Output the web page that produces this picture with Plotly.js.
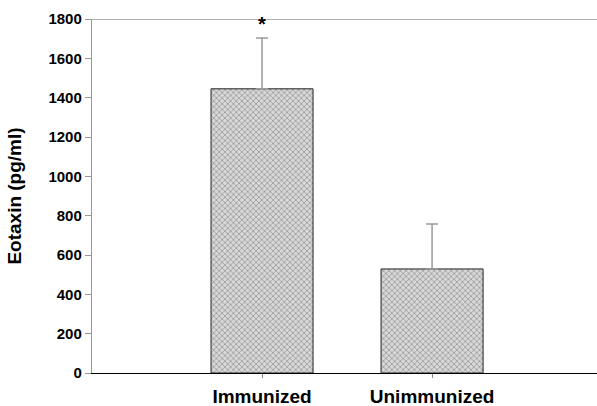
<!DOCTYPE html>
<html><head><meta charset="utf-8">
<script src="https://cdn.plot.ly/plotly-3.0.1.min.js"></script>
<style>body{margin:0;background:#fff}#c{width:597px;height:406px}</style>
</head><body><div id="c"></div>
<script>
const categories = ["Immunized", "Unimmunized"];
const means = [1445, 529];
const errors = [258, 229];
const yTicks = [0, 200, 400, 600, 800, 1000, 1200, 1400, 1600, 1800];

const trace = {
  type: "bar",
  x: categories,
  y: means,
  width: 0.6,
  marker: {
    color: "#cfcfcf",
    line: {color: "#222", width: 1},
    pattern: {shape: "x", fgcolor: "#8a8a8a", bgcolor: "#d8d8d8", size: 4, solidity: 0.3}
  },
  error_y: {type: "data", symmetric: false, array: errors, arrayminus: [0, 0],
            color: "#999", thickness: 1.5, width: 6}
};

const layout = {
  width: 597, height: 406,
  margin: {l: 92, r: 0, t: 19, b: 33},
  paper_bgcolor: "#fff", plot_bgcolor: "#fff",
  showlegend: false,
  font: {family: "Liberation Sans, Arial, sans-serif", color: "#000"},
  xaxis: {
    type: "category", range: [-1, 1.97],
    showline: true, linecolor: "#000", linewidth: 1.2,
    ticks: "outside", ticklen: 4, tickcolor: "#888",
    ticklabelstandoff: 2,
    tickfont: {size: 19, family: "Liberation Sans, Arial", weight: "bold"},
    showgrid: false, zeroline: false
  },
  yaxis: {
    range: [0, 1800], tickvals: yTicks,
    showline: true, linecolor: "#999", linewidth: 1.2,
    ticks: "outside", ticklen: 6, tickcolor: "#999",
    tickfont: {size: 15, family: "Liberation Sans, Arial", weight: "bold"},
    showgrid: false, zeroline: false,
    title: {text: "Eotaxin (pg/ml)", font: {size: 19, family: "Liberation Sans, Arial", weight: "bold"}, standoff: 21}
  },
  shapes: [
    {type: "line", xref: "paper", yref: "y", x0: 0, x1: 1, y0: 1800, y1: 1800,
     line: {color: "#999", width: 1.5}}
  ],
  annotations: [
    {x: categories[0], y: means[0] + errors[0], text: "<b>*</b>", showarrow: false,
     yanchor: "bottom", yshift: 1, font: {size: 20, color: "#000"}}
  ]
};

Plotly.newPlot("c", [trace], layout, {displayModeBar: false, staticPlot: true});
</script></body></html>
